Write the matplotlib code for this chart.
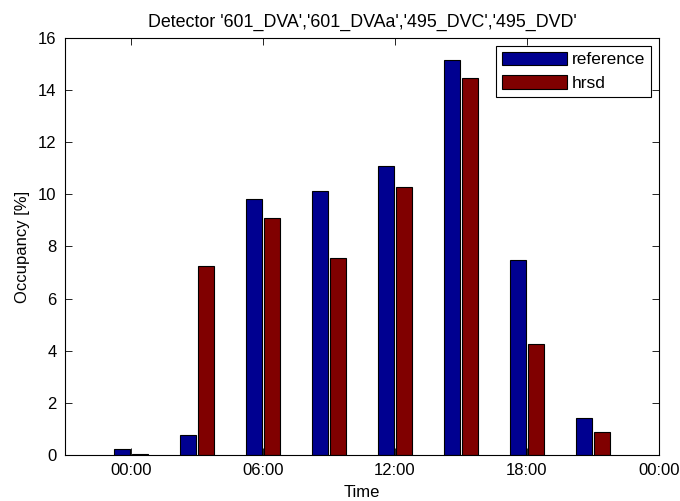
import matplotlib
matplotlib.use("Agg")
import matplotlib.pyplot as plt
import numpy as np

plt.rcParams["font.family"] = ["Liberation Sans", "DejaVu Sans"]
plt.rcParams["font.size"] = 12

# hour of day for each bar group
hours = [0, 3, 6, 9, 12, 15, 18, 21]
reference = [0.23, 0.77, 9.82, 10.13, 11.09, 15.15, 7.48, 1.41]
hrsd = [0.02, 7.25, 9.09, 7.56, 10.28, 14.45, 4.26, 0.87]
tick_hours = [0, 6, 12, 18, 24]
tick_labels = ["00:00", "06:00", "12:00", "18:00", "00:00"]

fig = plt.figure(figsize=(6.8, 5.01), dpi=100)
ax = fig.add_axes([0.0956, 0.0918, 0.8735, 0.8326])

x = np.array(hours)
w = 0.73
off = 0.39
ax.bar(x - off, reference, w, color="#000090", edgecolor="black", linewidth=0.8,
       label="reference")
ax.bar(x + off, hrsd, w, color="#800000", edgecolor="black", linewidth=0.8,
       label="hrsd")

ax.set_xlim(-3, 24)
ax.set_ylim(0, 16)
ax.set_xticks(tick_hours)
ax.set_xticklabels(tick_labels)
ax.set_yticks(np.arange(0, 17, 2))
ax.tick_params(direction="in", top=True, right=True, length=5, width=0.6, pad=6)
for s in ax.spines.values():
    s.set_linewidth(0.8)

ax.set_xlabel("Time", labelpad=4.5)
ax.set_ylabel("Occupancy [%]", labelpad=6)
ax.set_title("Detector '601_DVA','601_DVAa','495_DVC','495_DVD'", fontsize=12.9, pad=8)

leg = ax.legend(loc="upper right", handlelength=3.75, handleheight=0.8,
                borderaxespad=0.45, fancybox=False, edgecolor="black",
                framealpha=1, fontsize=12.5, labelspacing=0.45, handletextpad=0.25,
                borderpad=0.35)
leg.get_frame().set_linewidth(0.8)

fig.savefig("out.png", dpi=100)
